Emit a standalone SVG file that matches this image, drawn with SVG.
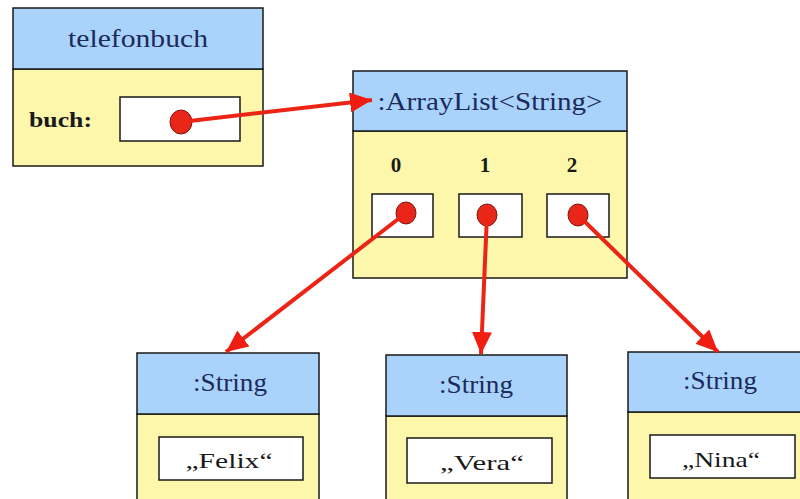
<svg xmlns="http://www.w3.org/2000/svg" width="800" height="499" viewBox="0 0 800 499">
<defs>
<marker id="ah" markerWidth="22" markerHeight="20" refX="22" refY="10" orient="auto" markerUnits="userSpaceOnUse" viewBox="0 0 22 20">
<path d="M0,0 L22,10 L0,20 z" fill="#f01e12"/>
</marker>
<style>
.hdr{fill:#a9d3fb;stroke:#1a1a1a;stroke-width:1.5}
.body{fill:#fcf7aa;stroke:#1a1a1a;stroke-width:1.5}
.slot{fill:#ffffff;stroke:#1a1a1a;stroke-width:1.5}
.title{font-family:"Liberation Serif",serif;font-size:26px;fill:#1c2a5c;text-anchor:middle}
.lbl{font-family:"Liberation Serif",serif;font-size:21px;font-weight:bold;fill:#1a1a1a}
.val{font-family:"Liberation Serif",serif;font-size:21px;fill:#1a1a1a;text-anchor:middle}
.dot{fill:#e8261a;stroke:#7a1a10;stroke-width:1}
.arr{stroke:#ec2416;stroke-width:4;fill:none}
</style>
</defs>
<rect width="800" height="499" fill="#ffffff"/>
<g id="telefonbuch">
<rect class="body" x="13" y="69" width="250" height="97"/>
<rect class="hdr" x="13" y="8" width="250" height="61"/>
<text class="title" x="138" y="47" textLength="140" lengthAdjust="spacingAndGlyphs">telefonbuch</text>
<text class="lbl" x="29" y="127" textLength="63" lengthAdjust="spacingAndGlyphs">buch:</text>
<rect class="slot" x="120" y="97" width="120" height="44"/>
<ellipse class="dot" cx="181" cy="122" rx="11" ry="12"/>
</g>
<g id="arraylist">
<rect class="body" x="353" y="131" width="274" height="147"/>
<rect class="hdr" x="353" y="71" width="274" height="60"/>
<text class="title" x="490" y="110" textLength="225" lengthAdjust="spacingAndGlyphs">:ArrayList&lt;String&gt;</text>
<text class="lbl" x="396" y="172" text-anchor="middle">0</text>
<text class="lbl" x="485" y="172" text-anchor="middle">1</text>
<text class="lbl" x="572" y="172" text-anchor="middle">2</text>
<rect class="slot" x="372" y="194" width="61" height="43"/>
<rect class="slot" x="459" y="194" width="63" height="43"/>
<rect class="slot" x="547" y="194" width="62" height="43"/>
<ellipse class="dot" cx="406" cy="213" rx="10" ry="11"/>
<ellipse class="dot" cx="487" cy="215" rx="10" ry="11"/>
<ellipse class="dot" cx="578" cy="215" rx="10" ry="11"/>
</g>
<g id="string0">
<rect class="body" x="137" y="414" width="182" height="90"/>
<rect class="hdr" x="137" y="353" width="182" height="61"/>
<text class="title" x="230" y="391" textLength="74" lengthAdjust="spacingAndGlyphs">:String</text>
<rect class="slot" x="159" y="437" width="144" height="43"/>
<text class="val" x="229" y="468" textLength="87" lengthAdjust="spacingAndGlyphs">„Felix“</text>
</g>
<g id="string1">
<rect class="body" x="386" y="416" width="181" height="90"/>
<rect class="hdr" x="386" y="355" width="181" height="61"/>
<text class="title" x="476" y="393" textLength="74" lengthAdjust="spacingAndGlyphs">:String</text>
<rect class="slot" x="407" y="438" width="145" height="45"/>
<text class="val" x="482" y="470" textLength="84" lengthAdjust="spacingAndGlyphs">„Vera“</text>
</g>
<g id="string2">
<rect class="body" x="628" y="412" width="180" height="90"/>
<rect class="hdr" x="628" y="352" width="180" height="60"/>
<text class="title" x="720" y="389" textLength="74" lengthAdjust="spacingAndGlyphs">:String</text>
<rect class="slot" x="650" y="435" width="145" height="43"/>
<text class="val" x="721" y="467" textLength="78" lengthAdjust="spacingAndGlyphs">„Nina“</text>
</g>
<g id="connectors">
<line class="arr" x1="181" y1="122" x2="372" y2="100" marker-end="url(#ah)"/>
<line class="arr" x1="406" y1="213" x2="226" y2="352" marker-end="url(#ah)"/>
<line class="arr" x1="487" y1="215" x2="481" y2="354" marker-end="url(#ah)"/>
<line class="arr" x1="578" y1="215" x2="718" y2="352" marker-end="url(#ah)"/>
</g>
</svg>
